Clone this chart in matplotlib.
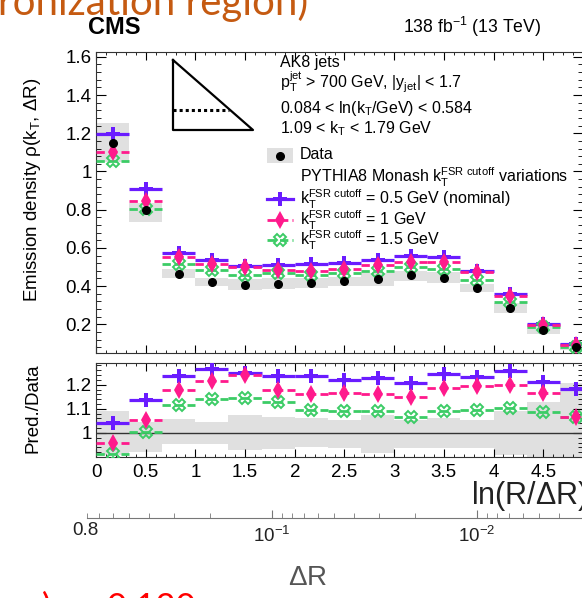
import matplotlib
matplotlib.use("Agg")
import math
import matplotlib.pyplot as plt
from matplotlib.ticker import MultipleLocator, FixedLocator, FuncFormatter, NullFormatter
from matplotlib.lines import Line2D
from matplotlib.patches import Rectangle

plt.rcParams["font.family"] = ["Liberation Sans", "DejaVu Sans"]
plt.rcParams["mathtext.fontset"] = "custom"
plt.rcParams["mathtext.rm"] = "Liberation Sans"
plt.rcParams["mathtext.it"] = "Liberation Sans"
plt.rcParams["mathtext.sf"] = "Liberation Sans"
plt.rcParams["mathtext.bf"] = "Liberation Sans:bold"

# ln(R/dR) bins
bin_edges = [0.0, 0.333, 0.667, 1.0, 1.333, 1.667, 2.0, 2.333, 2.667, 3.0,
             3.333, 3.667, 4.0, 4.333, 4.667, 5.0]

# emission density
data = [1.151, 0.798, 0.462, 0.422, 0.408, 0.413, 0.415, 0.425, 0.437, 0.457,
        0.445, 0.392, 0.288, 0.169, 0.084]
unc_up = [0.089, 0.047, 0.057, 0.047, 0.075, 0.068, 0.061, 0.054, 0.075, 0.054,
          0.061, 0.054, 0.089, 0.130, 0.207]
unc_dn = [0.090, 0.078, 0.046, 0.046, 0.071, 0.065, 0.060, 0.063, 0.082, 0.063,
          0.063, 0.063, 0.092, 0.130, 0.200]
pred_05 = [1.196, 0.908, 0.571, 0.535, 0.506, 0.509, 0.514, 0.521, 0.539, 0.556,
           0.553, 0.479, 0.361, 0.204, 0.099]
pred_10 = [1.103, 0.845, 0.551, 0.514, 0.500, 0.483, 0.479, 0.492, 0.509, 0.527,
           0.527, 0.474, 0.349, 0.197, 0.090]
pred_15 = [1.055, 0.805, 0.515, 0.483, 0.460, 0.467, 0.457, 0.466, 0.479, 0.500,
           0.492, 0.431, 0.317, 0.186, 0.081]

# pred / data
ratio_05 = [1.040, 1.135, 1.237, 1.265, 1.249, 1.235, 1.235, 1.221, 1.228, 1.207,
            1.246, 1.232, 1.258, 1.210, 1.182]
ratio_10 = [0.957, 1.054, 1.179, 1.214, 1.239, 1.179, 1.162, 1.165, 1.162, 1.151,
            1.186, 1.196, 1.200, 1.165, 1.068]
ratio_15 = [0.911, 1.005, 1.117, 1.140, 1.144, 1.130, 1.096, 1.092, 1.092, 1.068,
            1.089, 1.096, 1.103, 1.085, 1.065]

purple = "#6a1cff"
pink = "#ff1a8c"
green = "#3ccc66"
band = "#e0e0e0"

W, H = 582, 598


def fx(x):
    return x / W


def fy(y):
    return 1 - y / H


fig = plt.figure(figsize=(W / 100, H / 100), dpi=100)
ax = fig.add_axes([fx(96), fy(353), (583 - 96) / W, (353 - 52) / H])
rx = fig.add_axes([fx(96), fy(457), (583 - 96) / W, (457 - 363) / H])

lo = bin_edges[:-1]
hi = bin_edges[1:]
centers = [(a + b) / 2 for a, b in zip(lo, hi)]


def draw_series(a, vals, color, ls, marker, ms, mfc, mew, lw):
    a.hlines(vals, lo, hi, colors=color, linestyles=ls, lw=lw, zorder=3)
    a.plot(centers, vals, ls="none", marker=marker, ms=ms, color=color,
           mfc=mfc, mec=color, mew=mew, zorder=4)


# main panel
for i in range(len(data)):
    ax.fill_between([lo[i], hi[i]], data[i] * (1 - unc_dn[i]), data[i] * (1 + unc_up[i]),
                    color=band, lw=0, zorder=1)
draw_series(ax, pred_05, purple, "solid", "P", 10, purple, 0, 2.3)
draw_series(ax, pred_15, green, (0, (3, 1.5)), "X", 9, "none", 1.4, 2.0)
draw_series(ax, pred_10, pink, (0, (3, 1.5)), "d", 9, pink, 0, 2.0)
ax.plot(centers, data, "o", color="black", ms=5.5, zorder=5)

# ratio panel
for i in range(len(data)):
    rx.fill_between([lo[i], hi[i]], 1 - unc_dn[i], 1 + unc_up[i], color=band, lw=0, zorder=1)
rx.axhline(1, color="#333333", lw=1, zorder=2)
draw_series(rx, ratio_05, purple, "solid", "P", 10, purple, 0, 2.3)
draw_series(rx, ratio_15, green, (0, (3, 1.5)), "X", 9, "none", 1.4, 2.0)
draw_series(rx, ratio_10, pink, (0, (3, 1.5)), "d", 9, pink, 0, 2.0)

ax.set_xlim(0, 4.9)
ax.set_ylim(0.05, 1.625)
rx.set_xlim(0, 4.9)
rx.set_ylim(0.9, 1.29)

fmt = FuncFormatter(lambda v, _: f"{v:g}")
for a in (ax, rx):
    a.xaxis.set_major_locator(MultipleLocator(0.5))
    a.xaxis.set_minor_locator(MultipleLocator(0.1))
    a.tick_params(which="both", direction="in", top=True, right=True, labelsize=13.5)
    a.tick_params(axis="x", which="major", length=5.5)
    a.tick_params(axis="x", which="minor", length=2.5)
    a.tick_params(axis="y", which="major", length=7, pad=3)
    a.tick_params(axis="y", which="minor", length=3.5)
    a.yaxis.set_major_formatter(fmt)
    for s in a.spines.values():
        s.set_color("#333333")
ax.yaxis.set_major_locator(MultipleLocator(0.2))
ax.yaxis.set_minor_locator(MultipleLocator(0.04))
ax.xaxis.set_major_formatter(NullFormatter())
rx.yaxis.set_major_locator(FixedLocator([1.0, 1.1, 1.2]))
rx.yaxis.set_minor_locator(MultipleLocator(0.02))
rx.xaxis.set_major_formatter(fmt)
rx.tick_params(axis="x", which="major", pad=5)

fig.text(fx(33), fy(78), r"Emission density $\rho$(k$_{T}$, $\Delta$R)", rotation=90,
         ha="center", va="top", fontsize=13.5)
fig.text(fx(33), fy(408), "Pred./Data", rotation=90, ha="center", va="center", fontsize=13.5)

# secondary Delta R axis
dax = fig.add_axes([fx(87), fy(518), 500 / W, 0.0005])
dax.set_xscale("log")
dax.set_xlim(0.8, 0.8 * 10 ** (-500 / 205))
for side in ("top", "left", "right"):
    dax.spines[side].set_visible(False)
dax.spines["bottom"].set_color("#777777")
dax.set_yticks([])
dax.xaxis.set_major_locator(FixedLocator([0.1, 0.01]))
dax.xaxis.set_major_formatter(FuncFormatter(lambda v, _: r"$10^{%d}$" % round(math.log10(v))))
dax.xaxis.set_minor_locator(FixedLocator([0.8, 0.7, 0.6, 0.5, 0.4, 0.3, 0.2,
                                          0.09, 0.08, 0.07, 0.06, 0.05, 0.04, 0.03, 0.02,
                                          0.009, 0.008, 0.007, 0.006, 0.005, 0.004, 0.003]))
dax.xaxis.set_minor_formatter(NullFormatter())
dax.tick_params(which="both", direction="in", colors="#777777", labelcolor="#222222", labelsize=13.5)
dax.tick_params(which="major", length=6, pad=6)
dax.tick_params(which="minor", length=3.5)
fig.text(fx(85), fy(522), "0.8", ha="center", va="top", fontsize=13.5, color="#222222")
fig.text(fx(308), fy(578), r"$\Delta$R", ha="center", va="center", fontsize=20, color="#555555")
fig.text(fx(471), fy(496), r"ln(R/$\Delta$R)", ha="left", va="center", fontsize=22, color="#222222")

# header
fig.text(fx(88), fy(34), "CMS", fontsize=17, weight="bold", ha="left", va="baseline")
fig.text(fx(403), fy(33), r"138 fb$^{-1}$ (13 TeV)", fontsize=12.7, ha="left", va="baseline")
fig.text(fx(308), fy(15), "(hadronization region)", fontsize=29, family="Lato",
         color="#C55A11", ha="right", va="baseline")
fig.text(fx(42), fy(618), r")  ≈", fontsize=25, family="Lato", color="red", ha="left", va="baseline")
fig.text(fx(107), fy(618), "0.120", fontsize=25, family="Lato", color="red", ha="left", va="baseline")

# Lund plane sketch
fig.add_artist(Line2D([fx(173), fx(173), fx(253), fx(173)], [fy(60), fy(130), fy(130), fy(60)],
                      color="black", lw=1.6, transform=fig.transFigure))
fig.add_artist(Line2D([fx(173), fx(229)], [fy(110), fy(110)], color="black", lw=2.2,
                      ls=(0, (1, 1)), transform=fig.transFigure))

# legend and cuts
fs = 11.5
fig.text(fx(280), fy(62), "AK8 jets", fontsize=fs, va="center")
fig.text(fx(280), fy(82), r"p$_{T}^{jet}$ > 700 GeV, |y$_{jet}$| < 1.7", fontsize=fs, va="center")
fig.text(fx(280), fy(108), r"0.084 < ln(k$_{T}$/GeV) < 0.584", fontsize=fs, va="center")
fig.text(fx(280), fy(129), r"1.09 < k$_{T}$ < 1.79 GeV", fontsize=fs, va="center")

fig.add_artist(Rectangle((fx(267), fy(163)), 26 / W, 15 / H, color=band, lw=0,
                         transform=fig.transFigure))
fig.add_artist(Line2D([fx(280)], [fy(155.5)], marker="o", color="black", ms=5.5,
                      transform=fig.transFigure))
fig.text(fx(300), fy(155), "Data", fontsize=fs, va="center")
fig.text(fx(300), fy(177), r"PYTHIA8 Monash k$_{T}^{FSR\ cutoff}$ variations", fontsize=fs, va="center")

entries = [(199, purple, "solid", "P", 10, purple, 0, 2.3, "0.5 GeV (nominal)"),
           (220, pink, (0, (3, 1.5)), "d", 9, pink, 0, 2.0, "1 GeV"),
           (240, green, (0, (3, 1.5)), "X", 9, "none", 1.4, 2.0, "1.5 GeV")]
for y, c, ls, m, ms, mfc, mew, lw, lab in entries:
    fig.add_artist(Line2D([fx(267), fx(293)], [fy(y), fy(y)], color=c, ls=ls, lw=lw,
                          transform=fig.transFigure))
    fig.add_artist(Line2D([fx(280)], [fy(y)], marker=m, ms=ms, color=c, mfc=mfc, mec=c, mew=mew,
                          transform=fig.transFigure))
    fig.text(fx(300), fy(y), r"k$_{T}^{FSR\ cutoff}$ = " + lab, fontsize=fs, va="center")

fig.savefig("out.png", dpi=100)
